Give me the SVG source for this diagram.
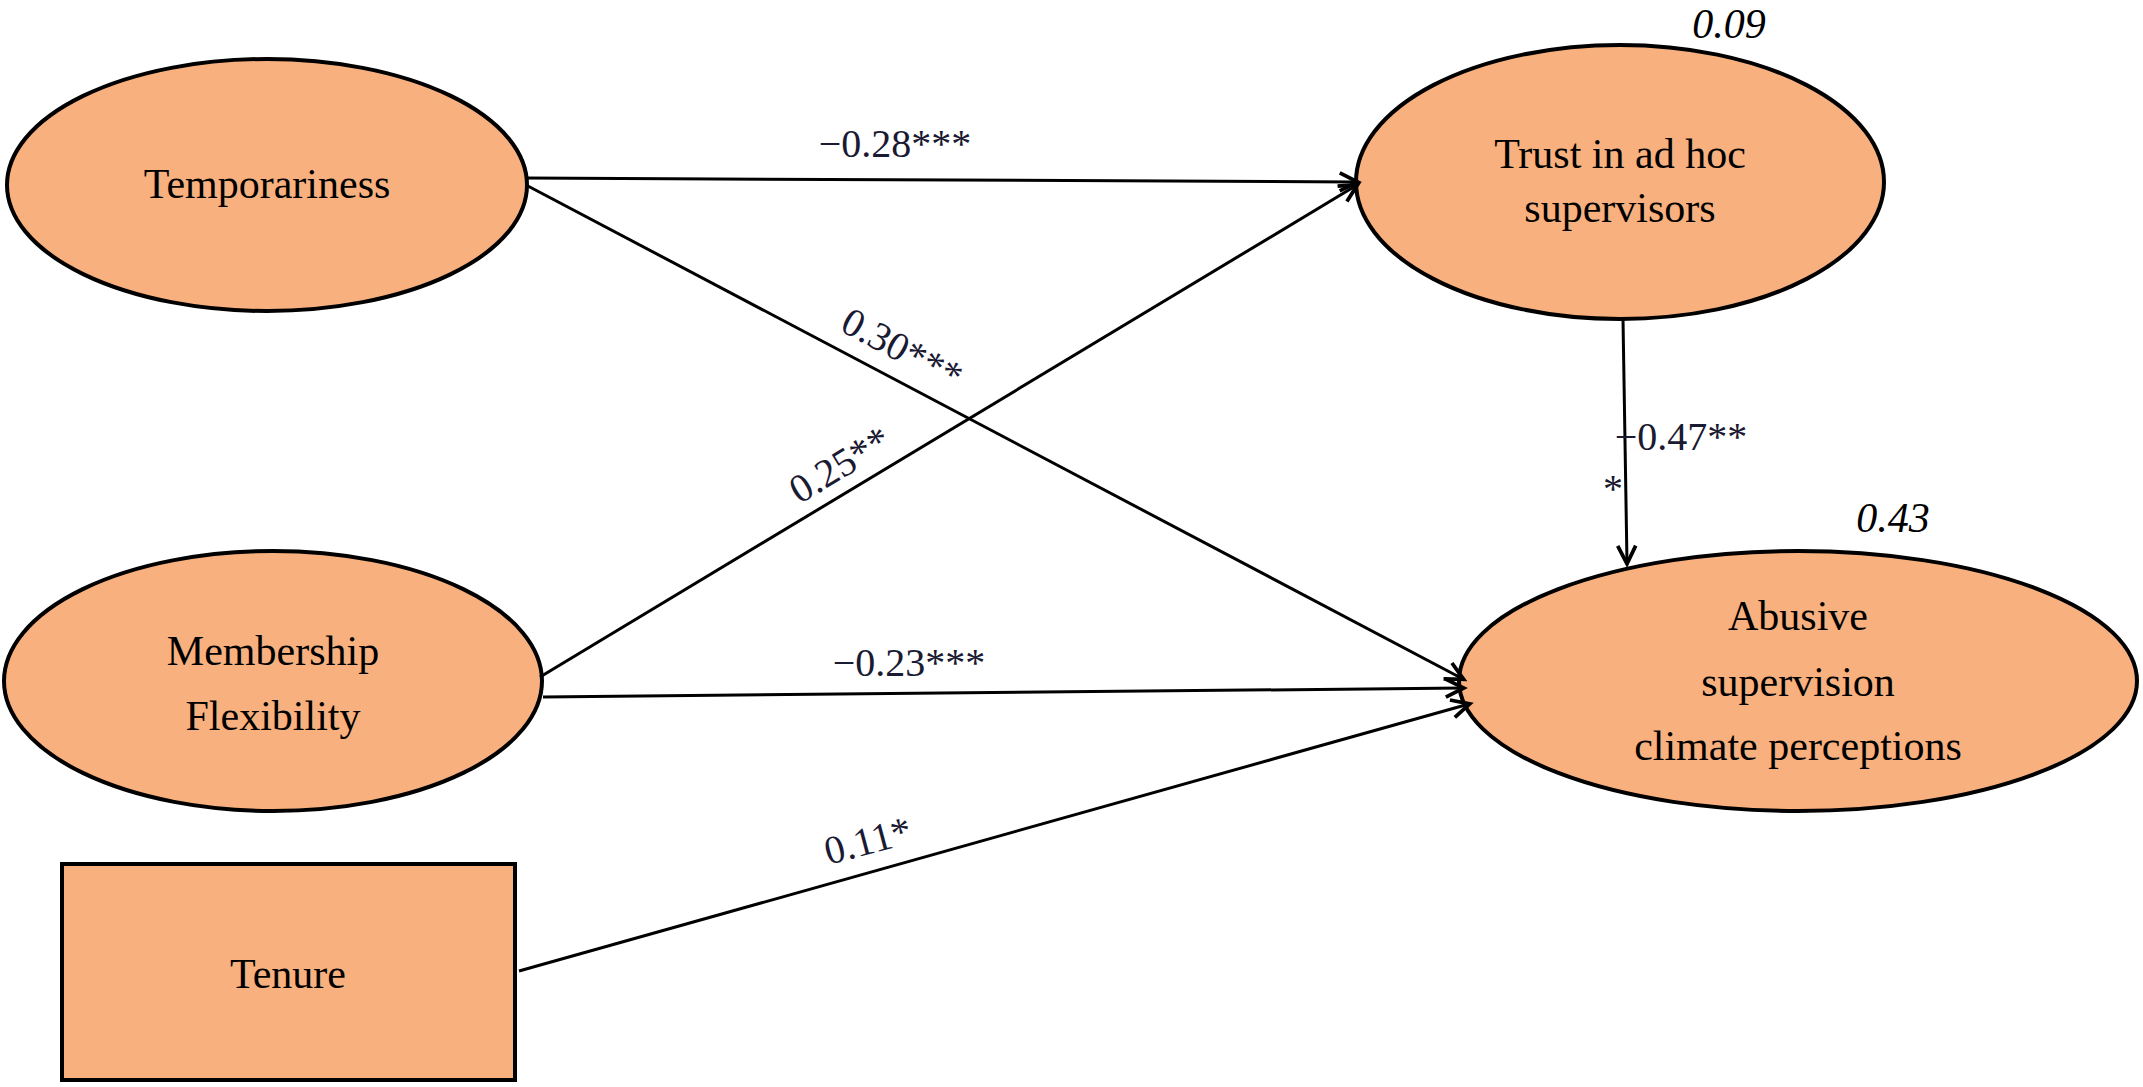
<svg xmlns="http://www.w3.org/2000/svg" width="2143" height="1087" viewBox="0 0 2143 1087">
<style>
.n{fill:#F8B07E;stroke:#000;stroke-width:4}
.t{font-family:"Liberation Serif",serif;font-size:42px;text-anchor:middle;fill:#000}
.l{font-family:"Liberation Serif",serif;font-size:40px;text-anchor:middle;fill:#1a1a33}
.c{stroke:#000;stroke-width:3;fill:none;marker-end:url(#a)}
</style>
<defs><marker id="a" viewBox="0 0 12 12" refX="11" refY="6" markerWidth="9" markerHeight="9" orient="auto" markerUnits="userSpaceOnUse" style="overflow:visible"><path d="M0,0 L12,6 L0,12" fill="none" stroke="#000" stroke-width="2.5" transform="scale(2)" transform-origin="12 6"/></marker></defs>
<rect width="2143" height="1087" fill="#fff"/>
<g id="temporariness"><ellipse class="n" cx="267" cy="185" rx="260" ry="126"/><text class="t" x="267" y="198">Temporariness</text></g>
<g id="trust"><ellipse class="n" cx="1620" cy="182" rx="264" ry="137"/><text class="t" x="1620" y="168">Trust in ad hoc</text><text class="t" x="1620" y="222">supervisors</text><text class="t" x="1729" y="38" font-style="italic">0.09</text></g>
<g id="membership"><ellipse class="n" cx="273" cy="681" rx="269" ry="130"/><text class="t" x="273" y="665">Membership</text><text class="t" x="273" y="730">Flexibility</text></g>
<g id="abusive"><ellipse class="n" cx="1798" cy="681" rx="339" ry="130"/><text class="t" x="1798" y="630">Abusive</text><text class="t" x="1798" y="696">supervision</text><text class="t" x="1798" y="760">climate perceptions</text><text class="t" x="1893" y="532" font-style="italic">0.43</text></g>
<g id="tenure"><rect class="n" x="62" y="864" width="453" height="216"/><text class="t" x="288" y="988">Tenure</text></g>
<g id="connectors">
<path class="c" d="M526,178 L1357,182"/>
<path class="c" d="M526,185 L1463,679"/>
<path class="c" d="M540,677 L1357,185"/>
<path class="c" d="M543,697 L1463,688"/>
<path class="c" d="M519,971 L1469,704"/>
<path class="c" d="M1623,319 L1627,563"/>
</g>
<g id="labels">
<text class="l" x="895" y="157">−0.28***</text>
<text class="l" x="902" y="362" transform="rotate(28 902 349)">0.30***</text>
<text class="l" x="840" y="478" transform="rotate(-31 840 465)">0.25**</text>
<text class="l" x="909" y="676">−0.23***</text>
<text class="l" x="868" y="854" transform="rotate(-15 868 841)">0.11*</text>
<text class="l" x="1681" y="450">−0.47**</text>
<text class="l" x="1613" y="502">*</text>
</g>
</svg>
